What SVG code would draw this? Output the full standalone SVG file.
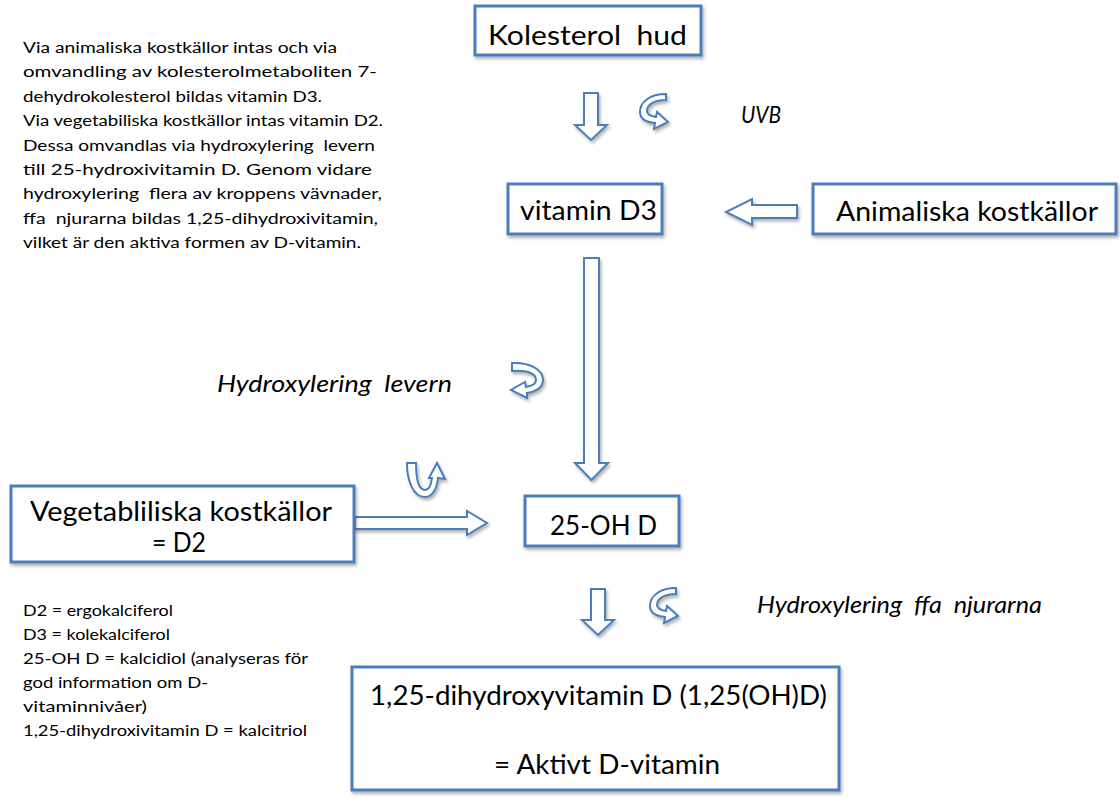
<svg xmlns="http://www.w3.org/2000/svg" width="1120" height="798" viewBox="0 0 1120 798">
<defs>
<style>
.box{fill:#fff;stroke:#4a7ebb;stroke-width:3}
.arr{fill:#fff;stroke:#4a7ebb;stroke-width:2;stroke-linejoin:miter}
.t{font-family:Lato,"Noto Sans","DejaVu Sans",sans-serif;fill:#000;white-space:pre}
.big{font-size:26px}
.sm{font-size:14.5px}
.it{font-size:23px;font-style:italic}
</style>
<filter id="sh" x="-10%" y="-10%" width="130%" height="140%">
<feDropShadow dx="1.5" dy="2.5" stdDeviation="1.5" flood-color="#000" flood-opacity="0.3"/>
</filter>
</defs>
<rect width="1120" height="798" fill="#fff"/>

<g id="info-top">
<text class="t sm" x="23" y="53" textLength="314" lengthAdjust="spacingAndGlyphs">Via animaliska kostkällor intas och via</text>
<text class="t sm" x="23" y="77.4" textLength="354" lengthAdjust="spacingAndGlyphs">omvandling av kolesterolmetaboliten 7-</text>
<text class="t sm" x="23" y="101.8" textLength="299" lengthAdjust="spacingAndGlyphs">dehydrokolesterol bildas vitamin D3.</text>
<text class="t sm" x="23" y="126.2" textLength="360" lengthAdjust="spacingAndGlyphs">Via vegetabiliska kostkällor intas vitamin D2.</text>
<text class="t sm" x="23" y="150.6" textLength="352" lengthAdjust="spacingAndGlyphs">Dessa omvandlas via hydroxylering  levern</text>
<text class="t sm" x="23" y="175" textLength="349" lengthAdjust="spacingAndGlyphs">till 25-hydroxivitamin D. Genom vidare</text>
<text class="t sm" x="23" y="199.4" textLength="359" lengthAdjust="spacingAndGlyphs">hydroxylering  flera av kroppens vävnader,</text>
<text class="t sm" x="23" y="223.8" textLength="355" lengthAdjust="spacingAndGlyphs">ffa  njurarna bildas 1,25-dihydroxivitamin,</text>
<text class="t sm" x="23" y="248.2" textLength="338" lengthAdjust="spacingAndGlyphs">vilket är den aktiva formen av D-vitamin.</text>
</g>

<g id="info-bottom">
<text class="t sm" x="23" y="616" textLength="150" lengthAdjust="spacingAndGlyphs">D2 = ergokalciferol</text>
<text class="t sm" x="23" y="640" textLength="147" lengthAdjust="spacingAndGlyphs">D3 = kolekalciferol</text>
<text class="t sm" x="23" y="664" textLength="285" lengthAdjust="spacingAndGlyphs">25-OH D = kalcidiol (analyseras för</text>
<text class="t sm" x="23" y="688" textLength="185" lengthAdjust="spacingAndGlyphs">god information om D-</text>
<text class="t sm" x="23" y="712" textLength="124" lengthAdjust="spacingAndGlyphs">vitaminnivåer)</text>
<text class="t sm" x="23" y="736" textLength="284" lengthAdjust="spacingAndGlyphs">1,25-dihydroxivitamin D = kalcitriol</text>
</g>

<g id="connectors">
<path class="arr" filter="url(#sh)" d="M584,93 H598 V125 H607 L591,140 L575,125 H584 Z"/>
<path class="arr" filter="url(#sh)" d="M666,94 C650,94 640,102 640,112 C640,118 645,122 655,123 L654,129 L668,122 L657,112 L656,117 C650,116 647,114 647,111 C647,104 655,100 666,100 Z"/>
<path class="arr" filter="url(#sh)" d="M797,205 V218 H752 V225 L726,212 L752,199 V205 Z"/>
<path class="arr" filter="url(#sh)" d="M584,258 H599 V463 H608 L591.5,480 L575,463 H584 Z"/>
<path class="arr" filter="url(#sh)" d="M512,363 C530,362 543,370 543,380 C543,388 535,392 527,393 L527,398 L511,390 L525,382 L526,387 C532,386 536,384 536,380 C536,373 527,370 512,371 Z"/>
<path class="arr" filter="url(#sh)" d="M407,463 C407,480 413,497 425,497 C433,497 437,488 438,478 L445,479 L437,463 L429,478 L432,478 C431,486 428,490 425,490 C418,490 416,478 416,463 Z"/>
<path class="arr" filter="url(#sh)" d="M355,517 H467 V511 L487,523 L467,535 V529 H355 Z"/>
<path class="arr" filter="url(#sh)" d="M591,589 H605 V620 H614 L598,635 L582,620 H591 Z"/>
<path class="arr" filter="url(#sh)" transform="translate(10,494)" d="M666,94 C650,94 640,102 640,112 C640,118 645,122 655,123 L654,129 L668,122 L657,112 L656,117 C650,116 647,114 647,111 C647,104 655,100 666,100 Z"/>
</g>

<g id="label-uvb">
<text class="t it" x="741" y="123" textLength="40" lengthAdjust="spacingAndGlyphs">UVB</text>
</g>
<g id="label-lever">
<text class="t it" x="217" y="392" textLength="235" lengthAdjust="spacingAndGlyphs">Hydroxylering  levern</text>
</g>
<g id="label-njure">
<text class="t it" x="757" y="613" textLength="285" lengthAdjust="spacingAndGlyphs">Hydroxylering  ffa  njurarna</text>
</g>

<g id="node-kolesterol">
<rect class="box" filter="url(#sh)" x="475" y="6" width="226" height="49"/>
<text class="t big" x="488" y="45" textLength="199" lengthAdjust="spacingAndGlyphs">Kolesterol  hud</text>
</g>
<g id="node-d3">
<rect class="box" filter="url(#sh)" x="508" y="184" width="154" height="50"/>
<text class="t big" x="520" y="220" textLength="137" lengthAdjust="spacingAndGlyphs">vitamin D3</text>
</g>
<g id="node-animal">
<rect class="box" filter="url(#sh)" x="813" y="184" width="303" height="50"/>
<text class="t big" x="836" y="221" textLength="262" lengthAdjust="spacingAndGlyphs">Animaliska kostkällor</text>
</g>
<g id="node-veg">
<rect class="box" filter="url(#sh)" x="11" y="486" width="343" height="76"/>
<text class="t big" x="30" y="521" textLength="302" lengthAdjust="spacingAndGlyphs">Vegetabliliska kostkällor</text>
<text class="t big" x="152" y="552" textLength="54" lengthAdjust="spacingAndGlyphs">= D2</text>
</g>
<g id="node-25oh">
<rect class="box" filter="url(#sh)" x="525" y="496" width="154" height="50"/>
<text class="t big" x="550" y="535" textLength="107" lengthAdjust="spacingAndGlyphs">25-OH D</text>
</g>
<g id="node-active">
<rect class="box" filter="url(#sh)" x="352" y="667" width="487" height="123"/>
<text class="t big" x="370" y="705" textLength="457" lengthAdjust="spacingAndGlyphs">1,25-dihydroxyvitamin D (1,25(OH)D)</text>
<text class="t big" x="494" y="774" textLength="226" lengthAdjust="spacingAndGlyphs">= Aktivt D-vitamin</text>
</g>
</svg>
